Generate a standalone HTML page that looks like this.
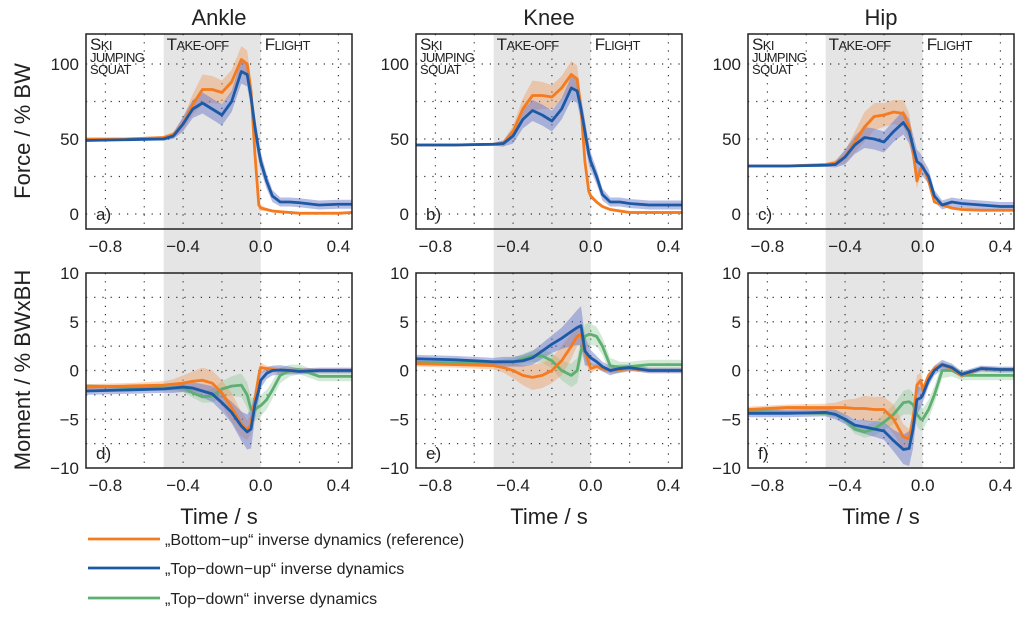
<!DOCTYPE html>
<html><head><meta charset="utf-8"><style>
body{margin:0;background:#fff;}
svg{display:block;font-family:"Liberation Sans",sans-serif;}
</style></head><body>
<svg id="chart" width="1024" height="617" viewBox="0 0 1024 617" xmlns="http://www.w3.org/2000/svg"></svg>
<script>
const T=[-0.9,-0.7,-0.5,-0.45,-0.4,-0.35,-0.3,-0.25,-0.2,-0.15,-0.1,-0.07,-0.05,-0.03,-0.01,0,0.03,0.06,0.1,0.15,0.2,0.3,0.4,0.47];
const xTicks=[-0.8,-0.4,0.0,0.4];
const xTickLabels=["\u22120.8","\u22120.4","0.0","0.4"];
const forceTicks=[0,50,100];
const momentTicks=[-10,-5,0,5,10];
const momentTickLabels=["\u221210","\u22125","0","5","10"];
const titles=["Ankle","Knee","Hip"];
// Force (top row)
const aOrange=[50,50,51,53,60,73,83,83,81,88,103,100,82,40,6,4,3,2,1.5,1,0.5,0.5,0.5,1];
const aBlue=[49,49.5,50,52,60,70,74,70,66,75,95,93,78,58,42,35,22,12,8,8,7.5,6,6.5,6.5];
const bOrange=[46,46,46.5,47,55,70,79,79,78,84,93,90,70,35,15,12,8,5,3,2,1,1,1,1];
const bBlue=[46,46,46.5,47,52,63,69,66,62,70,84,82,70,55,40,35,25,13,8,8,7,6,6,6];
const cOrange=[32,32,33,34,38,48,58,65,66,68,67,58,42,22,30,32,22,8,6,4,3,2.5,2.5,2.5];
const cBlue=[32,32,32.5,33,38,46,51,50,48,55,61,55,45,35,33,31,25,12,6,8,7,6,5,5];
// Moment (bottom row)
const dOrange=[-1.7,-1.6,-1.5,-1.4,-1.3,-1.1,-1.0,-1.3,-2.3,-3.8,-5.5,-6.1,-5.5,-3,-0.5,0.3,0.2,0.1,0,0,0,0,0,0];
const dBlue=[-2.1,-2,-1.9,-1.8,-1.7,-1.8,-2.1,-2.4,-3.3,-4.3,-5.7,-6.3,-6,-3.5,-2,-1,-0.3,0,0.05,0,-0.1,0,0,0];
const dGreen=[-1.6,-1.7,-1.8,-1.8,-1.8,-2.3,-2.7,-2.6,-1.9,-1.6,-1.5,-2.5,-4,-4,-3.7,-3.6,-3,-2,-0.5,0,0.1,-0.6,-0.6,-0.6];
const eOrange=[0.7,0.6,0.5,0.3,0,-0.5,-0.7,-0.5,0,1,2.5,3.5,3.7,2,0.8,0.2,0.4,0.2,0,0.1,0.2,0,0,0];
const eBlue=[1.2,1.1,0.9,0.9,0.9,1,1.3,2,2.7,3.3,4,4.4,4.6,2,1.5,1.3,0.9,0.4,0,0.2,0.3,0,0,0];
const eGreen=[0.8,0.8,0.8,0.85,0.9,1.2,1.5,1.5,1.0,0,-0.5,0,2,3.5,3.7,3.7,3.5,2.5,0.5,0.3,0.4,0.6,0.6,0.6];
const fOrange=[-4,-3.8,-3.8,-3.8,-3.8,-3.9,-3.9,-4,-4,-5,-6.8,-7,-5,-1.5,-1,-2,-0.5,0.2,0.6,0.2,-0.5,0.2,0.1,0.1];
const fBlue=[-4.4,-4.4,-4.3,-4.5,-5,-5.6,-5.8,-6,-6.2,-7.2,-8.1,-8,-6,-3,-2.8,-2.5,-1,0,0.6,0.3,-0.4,0.2,0.1,0.1];
const fGreen=[-4.2,-4.3,-4.4,-4.5,-5,-6,-6.3,-6,-5.3,-4.5,-3.3,-3.2,-3.5,-4.5,-5,-5,-4,-2.5,0,0,-0.5,-0.5,-0.5,-0.5];
// Band half-widths
const forceSdOrange=[0.5,0.5,1,2,4,7,10,9,8,8,9,9,8,5,3,2,1,1,1,1,1,1,1,1];
const forceSdBlue=[0.5,0.5,1,2,5,6,7,7,7,7,8,8,8,8,7,6,5,4,3,3,3,3,3,3];
const momSdOrange=[0.3,0.3,0.4,0.5,0.8,1,1.3,1.3,1.3,1.5,1.3,1,1,1,0.8,0.5,0.3,0.3,0.3,0.3,0.3,0.2,0.2,0.2];
const momSdBlue=[0.4,0.4,0.4,0.5,0.5,0.6,0.7,0.8,0.9,1.1,1.5,1.8,2,1.5,1,0.8,0.6,0.5,0.5,0.4,0.3,0.3,0.3,0.3];
const momSdGreen=[0.2,0.2,0.2,0.3,0.4,0.5,0.6,0.7,0.8,1,1.2,1.3,1.2,1.2,1.2,1.1,1,0.9,0.8,0.6,0.5,0.5,0.5,0.5];

const NS="http://www.w3.org/2000/svg";
const svg=document.getElementById('chart');
function mk(tag,attrs,parent){const e=document.createElementNS(NS,tag);for(const k in attrs)e.setAttribute(k,attrs[k]);(parent||svg).appendChild(e);return e;}
const COL={orange:"#f47b20",blue:"#1d5aa6",green:"#5fae72"};
const BAND={orange:"rgba(240,150,85,0.4)",blue:"rgba(95,110,200,0.45)",green:"rgba(130,195,140,0.35)"};
const panelsX=[86,416,748];
const PW=266;
const rows=[{top:34,bot:229,ymin:-10,ymax:120,grid:[0,25,50,75,100],shTop:34,shBot:256},{top:273,bot:468,ymin:-10,ymax:10,grid:[-7.5,-5,-2.5,0,2.5,5,7.5],shTop:256,shBot:468}];
const XMIN=-0.9,XMAX=0.47;
const series=[
 [[["orange",aOrange,forceSdOrange],["blue",aBlue,forceSdBlue]],[["orange",bOrange,forceSdOrange],["blue",bBlue,forceSdBlue]],[["orange",cOrange,forceSdOrange],["blue",cBlue,forceSdBlue]]],
 [[["green",dGreen,momSdGreen],["orange",dOrange,momSdOrange],["blue",dBlue,momSdBlue]],[["green",eGreen,momSdGreen],["orange",eOrange,momSdOrange],["blue",eBlue,momSdBlue]],[["green",fGreen,momSdGreen],["orange",fOrange,momSdOrange],["blue",fBlue,momSdBlue]]]
];
const letters=[["a)","b)","c)"],["d)","e)","f)"]];
let cid=0;
rows.forEach((R,ri)=>{
 panelsX.forEach((px,pi)=>{
  const xs=v=>px+(v-XMIN)/(XMAX-XMIN)*PW;
  const ys=v=>R.bot-(v-R.ymin)/(R.ymax-R.ymin)*(R.bot-R.top);
  const g=mk('g',{});
  
  
  const sh=mk('rect',{x:xs(-0.5),y:R.shTop,width:xs(0)-xs(-0.5),height:R.shBot-R.shTop,fill:"#e5e5e5"},g);
  
  
  const id='clip'+(cid++);
  const cp=mk('clipPath',{id:id},g);mk('rect',{x:px,y:R.top,width:PW,height:R.bot-R.top},cp);
  for(let t=-0.8;t<=0.41;t+=0.2){const ln=mk('line',{x1:xs(t),x2:xs(t),y1:R.top,y2:R.bot,stroke:"#333","stroke-width":1.2,"stroke-dasharray":"1.2 7"},g);}
  R.grid.forEach(v=>{const ln=mk('line',{x1:px,x2:px+PW,y1:ys(v),y2:ys(v),stroke:"#333","stroke-width":1.2,"stroke-dasharray":"1.2 7"},g);});
  const dg=mk('g',{"clip-path":"url(#"+id+")"},g);
  series[ri][pi].forEach(([c,vals,sd])=>{
   let up=T.map((t,i)=>xs(t)+","+ys(vals[i]+sd[i]));
   let dn=T.map((t,i)=>xs(t)+","+ys(vals[i]-sd[i])).reverse();
   const b=mk('polygon',{points:up.concat(dn).join(" "),fill:BAND[c]},dg);
   
   
  });
  series[ri][pi].forEach(([c,vals])=>{
   const l=mk('polyline',{points:T.map((t,i)=>xs(t)+","+ys(vals[i])).join(" "),fill:"none",stroke:COL[c],"stroke-width":2.8,"stroke-linejoin":"round"},dg);
   
   
  });
  const fr=mk('rect',{x:px,y:R.top,width:PW,height:R.bot-R.top,fill:"none",stroke:"#222","stroke-width":1.5},g);
  
  
  xTicks.forEach((t,i)=>{const tx=mk('text',{x:xs(t),y:R.bot+23,"text-anchor":"middle","font-size":17,fill:"#222"},g);tx.textContent=xTickLabels[i];});
  if(ri===0){forceTicks.forEach(v=>{const tx=mk('text',{x:px-7,y:ys(v)+6,"text-anchor":"end","font-size":17,fill:"#222"},g);tx.textContent=v;});}
  else{momentTicks.forEach((v,i)=>{const tx=mk('text',{x:px-7,y:ys(v)+6,"text-anchor":"end","font-size":17,fill:"#222"},g);tx.textContent=momentTickLabels[i];});}
  const lt=mk('text',{x:px+10,y:R.bot-9,"font-size":17,fill:"#222"},g);lt.textContent=letters[ri][pi];
  
  if(ri===0){
   const tt=mk('text',{x:px+PW/2,y:25,"text-anchor":"middle","font-size":22,fill:"#222"},g);tt.textContent=titles[pi];
   
   const ph=[[px+4,50,"S","KI"],[xs(-0.5)+3,50,"T","AKE-OFF"],[xs(0)+4,50,"F","LIGHT"]];
   ph.forEach(([x,y,a,b])=>{const t=mk('text',{x:x,y:y,"font-size":17,fill:"#222","letter-spacing":"-0.6"},g);t.innerHTML=a+'<tspan font-size="13">'+b+'</tspan>';});
   [["JUMPING",62],["SQUAT",74]].forEach(([s,y])=>{const t=mk('text',{x:px+4,y:y,"font-size":13,fill:"#222","letter-spacing":"-0.6"},g);t.textContent=s;});
  } else {
   const xt=mk('text',{x:px+PW/2,y:524,"text-anchor":"middle","font-size":22,fill:"#222"},g);xt.textContent="Time / s";
   
  }
 });
});
[["Force / % BW",131],["Moment / % BWxBH",370]].forEach(([s,y])=>{const t=mk('text',{x:0,y:0,transform:"translate(30,"+y+") rotate(-90)","text-anchor":"middle","font-size":22,fill:"#222"});t.textContent=s;});
const legend=[["orange","\u201eBottom\u2212up\u201c inverse dynamics (reference)",539],["blue","\u201eTop\u2212down\u2212up\u201c inverse dynamics",568],["green","\u201eTop\u2212down\u201c inverse dynamics",598]];
legend.forEach(([c,s,y])=>{const g=mk('g',{});
 mk('line',{x1:88,x2:160,y1:y,y2:y,stroke:COL[c],"stroke-width":2.8},g);
 const t=mk('text',{x:165,y:y+6,"font-size":16,fill:"#222"},g);t.textContent=s;});
</script>
</body></html>
